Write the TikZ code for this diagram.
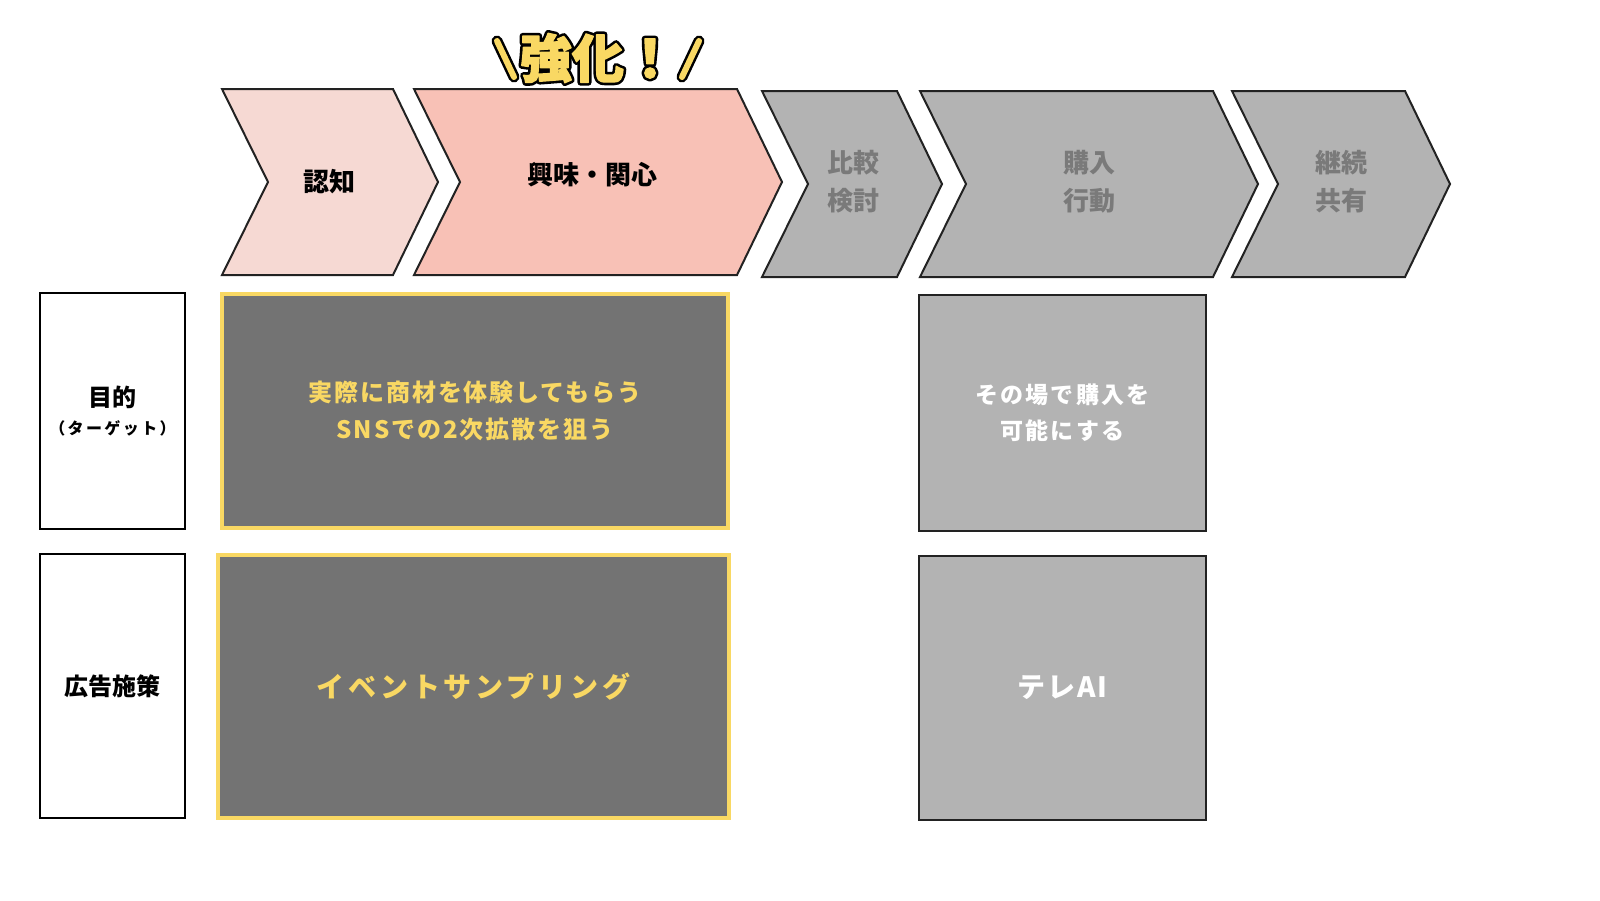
\documentclass[tikz,border=0pt]{standalone}
\usepackage{fontspec}
\setmainfont{Noto Sans CJK JP}
\usepackage{tikz}
\usepackage{xcolor}
\usetikzlibrary{positioning}
\definecolor{pinklight}{HTML}{F6D9D3}
\definecolor{pinkcolor}{HTML}{F8C1B6}
\definecolor{greycolor}{HTML}{B3B3B3}
\definecolor{darkgrey}{HTML}{737373}
\definecolor{greytext}{HTML}{7A7A7A}
\definecolor{yellowcolor}{HTML}{F9D863}
\definecolor{edgecolor}{HTML}{222222}

% chevron: left x, right x, top y, bottom y, fill
\newcommand{\chev}[5]{%
  \draw[chevedge, fill=#5] (#1,#3) -- (#2,#3) -- (#2+45,{(#3+#4)/2}) -- (#2,#4)
    -- (#1,#4) -- (#1+46,{(#3+#4)/2}) -- cycle;}
% outlined text: stroke width in bp
\newcommand{\outlined}[2]{\special{pdf:literal 0 0 0 RG 2 Tr #1 w 1 j}#2\special{pdf:literal 0 Tr}}

\tikzset{
  chevedge/.style={draw=edgecolor, line width=1pt, line join=miter},
  stagetext/.style={font=\bfseries\fontsize{13}{19}\selectfont, align=center},
  emphtext/.style={inner sep=0pt, font=\bfseries\fontsize{26}{26}\selectfont},
  headbox/.style={draw=black, line width=1pt, fill=white, inner sep=0pt, outer sep=0pt,
    minimum width=72.5pt, align=center, font=\bfseries\fontsize{12}{16}\selectfont},
  keybox/.style={draw=yellowcolor, line width=2pt, fill=darkgrey, inner sep=0pt, outer sep=0pt,
    text=yellowcolor, align=center, font=\bfseries\fontsize{12}{18.5}\selectfont\addfontfeature{LetterSpace=8}},
  buybox/.style={draw=edgecolor, line width=1pt, fill=greycolor, inner sep=0pt, outer sep=0pt,
    minimum width=143.5pt, text=white, align=center,
    font=\bfseries\fontsize{11.5}{18}\selectfont\addfontfeature{LetterSpace=10}}
}

\begin{document}
\begin{tikzpicture}[x=0.5pt, y=-0.5pt]
  \useasboundingbox[fill=white] (0,0) rectangle (1600,900);

  % stages
  \chev{222}{393}{89}{275}{pinklight}
  \chev{414}{737}{89}{275}{pinkcolor}
  \chev{762}{897}{91}{277}{greycolor}
  \chev{920}{1213}{91}{277}{greycolor}
  \chev{1232}{1405}{91}{277}{greycolor}
  \node[stagetext] (aware) at (329,182) {認知};
  \node[stagetext] (interest) at (592,175) {興味・関心};
  \node[stagetext, text=greytext] (compare) at (853,182) {比較\\検討};
  \node[stagetext, text=greytext] (purchase) at (1089,182) {購入\\行動};
  \node[stagetext, text=greytext] (share) at (1341,182) {継続\\共有};

  % emphasis over the second stage
  \node[emphtext, text=yellowcolor] (emph) at (598,58)
    {\rlap{\outlined{3.2}{強化！}}\outlined{0.6}{\color{yellowcolor}強化！}};
  \draw[line width=5.5pt, line cap=round, black] (497,41) -- (514,77);
  \draw[line width=3pt, line cap=round, yellowcolor] (497,41) -- (514,77);
  \draw[line width=5.5pt, line cap=round, black] (699,41) -- (682,77);
  \draw[line width=3pt, line cap=round, yellowcolor] (699,41) -- (682,77);

  % rows
  \node[headbox, minimum height=118pt] (goalhead) at (112.5,411)
    {目的\\[-2pt]{\fontsize{8}{10}\selectfont\addfontfeature{LetterSpace=15}（ターゲット）}};
  \node[headbox, minimum height=132pt] (planhead) at (112.5,686) {広告施策};

  \node[keybox, minimum width=253pt, minimum height=117pt] (goalkey) at (475,411)
    {実際に商材を体験してもらう\\SNSでの2次拡散を狙う};
  \node[keybox, minimum width=255.5pt, minimum height=131.5pt,
    font=\bfseries\fontsize{14}{18}\selectfont\addfontfeature{LetterSpace=14}] (plankey) at (473.5,686.5)
    {イベントサンプリング};

  \node[buybox, minimum height=118pt] (goalbuy) at (1062.5,413) {その場で購入を\\可能にする};
  \node[buybox, minimum height=132pt,
    font=\bfseries\fontsize{14}{18}\selectfont\addfontfeature{LetterSpace=6}] (planbuy) at (1062.5,688) {テレAI};
\end{tikzpicture}
\end{document}
